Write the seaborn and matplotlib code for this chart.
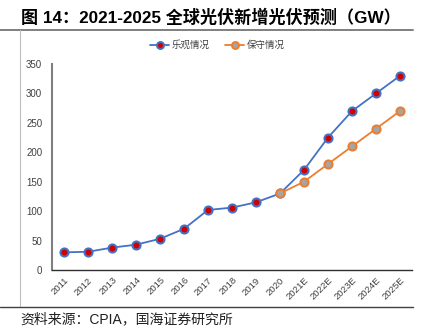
import matplotlib
matplotlib.use("Agg")
import matplotlib.pyplot as plt
from matplotlib.lines import Line2D
import seaborn as sns
import pandas as pd

# Annual global PV installations, GW
years = ["2011", "2012", "2013", "2014", "2015", "2016", "2017", "2018",
         "2019", "2020", "2021E", "2022E", "2023E", "2024E", "2025E"]
optimistic = [30, 31, 38, 43, 53, 70, 102, 106, 115, 130, 170, 225, 270, 300, 330]
conservative_years = ["2020", "2021E", "2022E", "2023E", "2024E", "2025E"]
conservative = [130, 150, 180, 210, 240, 270]
yticks = [0, 50, 100, 150, 200, 250, 300, 350]

title = "图 14：2021-2025 全球光伏新增光伏预测（GW）"
source = "资料来源：CPIA，国海证券研究所"
label_opt = "乐观情况"
label_con = "保守情况"

sns.set_theme(style="white")
plt.rcParams["font.family"] = ["Noto Sans CJK SC", "DejaVu Sans"]
latin_first = ["Liberation Sans", "Noto Sans CJK SC", "DejaVu Sans"]

df_opt = pd.DataFrame({"pos": [years.index(y) for y in years], "gw": optimistic})
df_con = pd.DataFrame({"pos": [years.index(y) for y in conservative_years], "gw": conservative})

fig = plt.figure(figsize=(4.38, 3.32), dpi=100)
ax = fig.add_axes([52 / 438, 1 - 270 / 332, 360 / 438, 206 / 332])

blue = "#4472C4"
orange = "#ED7D31"
sns.lineplot(data=df_opt, x="pos", y="gw", ax=ax, color=blue, linewidth=1.3,
             marker="o", markersize=5.8, markerfacecolor="#D00000",
             markeredgecolor=blue, markeredgewidth=1.5, label=label_opt, legend=False)
sns.lineplot(data=df_con, x="pos", y="gw", ax=ax, color=orange, linewidth=1.3,
             marker="o", markersize=5.8, markerfacecolor="#A5A5A5",
             markeredgecolor=orange, markeredgewidth=1.5, label=label_con, legend=False)

ax.set_xlim(-0.5, len(years) - 0.5)
ax.set_ylim(0, 350)
ax.set_yticks(yticks)
ax.set_yticklabels([str(v) for v in yticks], fontsize=7, color="#404040",
                   family=["Liberation Sans", "DejaVu Sans"])
ax.set_xticks(range(len(years)))
ax.set_xticklabels(years, rotation=45, ha="right", rotation_mode="anchor",
                   fontsize=6.8, color="#404040", family=["Liberation Sans", "DejaVu Sans"])
ax.tick_params(axis="x", length=0, pad=4)
ax.tick_params(axis="y", length=3, width=1, color="#808080", direction="out", pad=4)
# category boundary ticks on the x axis
ax.set_xticks([i - 0.5 for i in range(len(years) + 1)], minor=True)
ax.tick_params(axis="x", which="minor", length=3, width=1, color="#303030", direction="out")
ax.set_xlabel("")
ax.set_ylabel("")
for side in ("top", "right"):
    ax.spines[side].set_visible(False)
ax.spines["left"].set_color("#808080")
ax.spines["left"].set_linewidth(1.5)
ax.spines["bottom"].set_color("#303030")
ax.spines["bottom"].set_linewidth(1.0)
ax.grid(False)

handles = [
    Line2D([], [], color=blue, linewidth=1.3, marker="o", markersize=5,
           markerfacecolor="#D00000", markeredgecolor=blue, markeredgewidth=1.4),
    Line2D([], [], color=orange, linewidth=1.3, marker="o", markersize=5,
           markerfacecolor="#A5A5A5", markeredgecolor=orange, markeredgewidth=1.4),
]
fig.legend(handles, [label_opt, label_con], loc="center", ncol=2,
           bbox_to_anchor=(0.497, 1 - 45 / 332), frameon=False, fontsize=6.8,
           handlelength=2.0, columnspacing=1.6, handletextpad=0.3,
           labelcolor="#404040")

# page framing: title rule, left rule, bottom rule
fig.add_artist(Line2D([0, 413 / 438], [1 - 29.5 / 332] * 2, color="#7F7F7F", linewidth=1.4))
fig.add_artist(Line2D([20 / 438] * 2, [1 - 30 / 332, 1 - 307 / 332], color="#BFBFBF", linewidth=0.8))
fig.add_artist(Line2D([0, 413 / 438], [1 - 307 / 332] * 2, color="#404040", linewidth=1.0))

fig.text(21 / 438, 1 - 17 / 332, title, fontsize=12.3, fontweight="bold",
         va="center", ha="left", color="black", family=latin_first)
fig.text(20 / 438, 1 - 319 / 332, source, fontsize=10, va="center", ha="left",
         color="#202020", family=latin_first)

fig.savefig("out.png", dpi=100)
